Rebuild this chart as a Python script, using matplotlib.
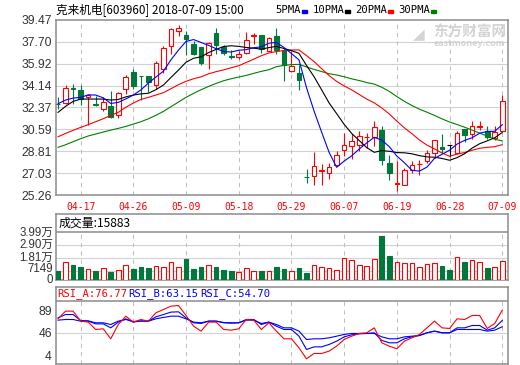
import numpy as np
import pandas as pd
import matplotlib
matplotlib.use('Agg')
import matplotlib.pyplot as plt
from matplotlib.patches import Rectangle
from matplotlib.transforms import blended_transform_factory, ScaledTranslation

# ---- data ----
opens = [32.68, 32.70, 33.95, 33.81, 33.24, 32.67, 32.27, 32.48, 31.78, 33.84,
         35.24, 34.94, 34.92, 34.22, 35.52, 37.35, 38.55, 38.28, 37.52, 37.25,
         36.60, 38.41, 37.25, 36.54, 36.44, 36.82, 38.20, 38.28, 36.98, 38.14,
         37.03, 35.30, 35.16, 26.76, 26.77, 27.21, 27.04, 27.72, 28.91, 29.21,
         29.29, 29.95, 29.94, 30.56, 27.83, 26.18, 26.04, 27.31, 27.75, 27.99,
         28.67, 29.13, 29.30, 28.67, 30.62, 30.21, 30.79, 30.43, 29.89, 30.48]
highs = [33.19, 34.22, 34.27, 34.22, 33.46, 33.27, 33.19, 33.73, 33.62, 34.97,
         35.52, 34.94, 34.92, 36.17, 37.33, 38.82, 39.09, 38.55, 37.79, 37.30,
         37.68, 38.82, 37.41, 37.03, 36.92, 38.49, 38.38, 38.28, 38.06, 38.82,
         37.19, 36.92, 35.84, 27.39, 28.75, 27.77, 27.85, 28.86, 30.29, 30.21,
         30.43, 30.29, 31.24, 30.83, 28.53, 27.99, 27.45, 27.99, 28.13, 28.94,
         29.75, 30.21, 29.34, 30.43, 30.62, 31.29, 31.29, 30.83, 30.83, 33.40]
lows = [32.27, 32.65, 32.65, 32.54, 30.91, 32.51, 32.11, 31.51, 31.51, 33.46,
        33.89, 33.00, 33.62, 33.89, 35.16, 36.68, 38.14, 36.65, 36.60, 35.79,
        35.52, 36.71, 36.65, 36.33, 36.33, 36.71, 37.52, 36.82, 36.92, 36.71,
        34.49, 35.24, 33.81, 26.26, 26.10, 26.04, 26.58, 27.58, 28.40, 28.15,
        28.86, 29.07, 29.21, 27.72, 26.47, 25.61, 26.04, 27.02, 26.85, 27.85,
        28.26, 28.67, 28.37, 28.59, 29.56, 29.83, 30.56, 29.83, 29.75, 30.43]
closes = [32.62, 33.95, 33.90, 33.08, 33.40, 32.56, 32.81, 31.62, 33.51, 34.81,
          34.11, 34.90, 34.43, 35.95, 37.19, 38.74, 38.82, 37.95, 36.71, 36.00,
          37.57, 37.46, 36.82, 36.50, 36.71, 37.84, 38.24, 37.14, 38.01, 37.03,
          35.79, 35.76, 34.57, 26.72, 27.58, 27.25, 27.50, 28.48, 29.29, 29.67,
          30.02, 29.99, 30.75, 28.13, 27.02, 26.22, 27.29, 27.67, 27.79, 28.67,
          29.75, 28.97, 29.30, 30.29, 30.16, 30.83, 30.83, 29.97, 30.37, 32.86]
volumes = [7850, 15180, 12650, 10400, 9000, 7850, 9840, 7030, 8440, 12370,
           9280, 10970, 9560, 11530, 10970, 15180, 10970, 17150, 9280, 10400,
           12370, 10400, 8720, 7850, 6750, 9840, 7850, 7850, 7850, 10400,
           9280, 7590, 10120, 5900, 12370, 10700, 10120, 8440, 18300, 16600,
           12370, 11530, 17460, 36270, 19990, 15180, 14340, 14340, 10700, 13500,
           14340, 11810, 8440, 19150, 15180, 16600, 15180, 10120, 10700, 15883]

# moving averages at the left edge (history before the window is not shown)
ma5_head = [32.67, 32.97, 33.13, 33.19]
ma10_head = [31.97, 32.46, 32.86, 33.05, 33.05, 33.05, 33.05, 32.97, 33.02]
ma20_head = [29.99, 30.26, 30.51, 30.75, 30.97, 31.21, 31.45, 31.73, 31.97, 32.38,
             32.73, 33.02, 33.19, 33.38, 33.57, 33.89, 34.22, 34.49, 34.70]
ma30_head = [29.13, 29.34, 29.59, 29.83, 30.05, 30.21, 30.37, 30.53, 30.67, 30.83,
             31.02, 31.21, 31.45, 31.73, 32.05, 32.43, 32.81, 33.19, 33.51, 33.81,
             34.08, 34.32, 34.54, 34.70, 34.84, 34.97, 35.14, 35.30, 35.43]

rsi_a = [65.3, 75.5, 75.5, 62.2, 60.9, 51.1, 52.0, 38.7, 57.7, 68.8,
         60.9, 64.4, 62.2, 73.3, 77.7, 82.1, 83.0, 69.7, 55.5, 48.9,
         60.9, 60.9, 51.1, 50.2, 52.0, 64.4, 63.5, 51.1, 60.0, 48.9,
         38.7, 38.7, 26.7, 12.1, 19.2, 19.2, 22.3, 28.9, 37.8, 42.2,
         45.8, 46.7, 53.3, 33.4, 28.9, 25.4, 35.6, 40.0, 44.5, 53.3,
         62.2, 53.3, 52.4, 65.3, 64.4, 69.7, 69.7, 52.4, 59.1, 76.77]
rsi_b = [66.6, 71.0, 71.0, 63.1, 62.2, 58.6, 58.6, 53.3, 60.9, 65.3,
         60.9, 62.6, 62.2, 67.9, 71.0, 74.2, 74.6, 66.6, 60.0, 59.1,
         62.2, 62.2, 60.0, 59.5, 60.0, 64.4, 64.4, 57.7, 60.9, 55.5,
         51.1, 51.1, 42.2, 24.5, 28.0, 28.0, 31.2, 35.6, 41.3, 44.0,
         45.3, 45.8, 46.7, 36.5, 33.4, 33.4, 38.7, 41.3, 43.1, 46.7,
         48.9, 46.7, 46.7, 53.3, 53.3, 56.4, 56.4, 50.2, 53.3, 63.15]
rsi_c = [63.5, 64.4, 64.4, 62.2, 62.6, 60.0, 60.0, 57.7, 62.2, 64.4,
         61.7, 62.2, 62.2, 65.3, 67.1, 68.8, 68.8, 65.3, 60.9, 60.0,
         62.2, 62.2, 60.4, 60.0, 60.0, 63.5, 63.5, 59.1, 60.9, 57.7,
         53.3, 53.3, 48.9, 37.8, 38.7, 38.7, 40.0, 42.2, 44.5, 45.8,
         45.8, 45.8, 45.8, 41.3, 38.7, 38.7, 41.3, 42.2, 43.1, 46.7,
         48.9, 46.7, 46.7, 51.1, 51.1, 51.1, 51.1, 48.9, 50.2, 54.70]

date_labels = ['04-17', '04-26', '05-09', '05-18', '05-29', '06-07', '06-19', '06-28', '07-09']
date_index = [3, 10, 17, 24, 31, 38, 45, 52, 59]
price_ticks = [25.26, 27.03, 28.81, 30.59, 32.37, 34.14, 35.92, 37.70, 39.47]
vol_ticks = [0, 7149, 18066, 28983, 39900]
vol_tick_labels = ['0', '7149', '1.81万', '2.90万', '3.99万']
rsi_ticks = [15.9, 46.8, 77.0]
rsi_tick_labels = ['4', '46', '89']

RED = '#ff0000'
GREEN = '#00783c'
BLUE = '#0000ff'
FRAME = '#8c8c8c'
GRID = '#d2d2d2'
W, H = 520, 365

plt.rcParams['font.family'] = ['Noto Sans CJK SC', 'DejaVu Sans']


def box(l, t, r, b):
    return [l / W, 1 - b / H, (r - l) / W, (b - t) / H]


def style_panel(ax):
    for s in ax.spines.values():
        s.set_color(FRAME)
        s.set_linewidth(1.1)
    ax.tick_params(length=0, labelsize=8.7, labelcolor='#333333', pad=3)
    for lab in ax.get_yticklabels():
        lab.set_fontfamily(['Liberation Sans', 'Noto Sans CJK SC'])
    ax.set_xlim(-0.27, 59.76)


def main():
    o = np.array(opens)
    h = np.array(highs)
    l = np.array(lows)
    c = np.array(closes)
    v = np.array(volumes)
    x = np.arange(len(c))

    close = pd.Series(c)
    ma5 = close.rolling(5).mean().to_numpy()
    ma5[:4] = ma5_head
    ma10 = close.rolling(10).mean().to_numpy()
    ma10[:9] = ma10_head
    ma20 = close.rolling(20).mean().to_numpy()
    ma20[:19] = ma20_head
    ma30 = close.rolling(30).mean().to_numpy()
    ma30[:29] = ma30_head

    fig = plt.figure(figsize=(5.2, 3.65), dpi=100)

    # ---------- price panel ----------
    ax = fig.add_axes(box(56, 20, 508, 195))
    ax.set_ylim(25.26, 39.47)
    for t in price_ticks[1:-1]:
        ax.axhline(t, color=GRID, lw=0.8, zorder=0)
    ax.vlines(date_index, 25.26, 39.47, colors='#c0c0c0', lw=0.75,
              linestyles=(0, (4, 4)), zorder=0)

    up = c > o
    down = c < o
    flat = c == o
    col = np.where(up, RED, np.where(down, GREEN, 'black'))
    ax.vlines(x, l, h, colors=col, lw=0.8, zorder=2)
    bottom = np.minimum(o, c)
    height = np.maximum(np.abs(c - o), 0.03)
    bw = 0.62
    ax.bar(x[up], height[up], bw, bottom[up], facecolor='white', edgecolor=RED, lw=0.8, zorder=3)
    ax.bar(x[down], height[down], bw, bottom[down], facecolor=GREEN, edgecolor=GREEN, lw=0.8, zorder=3)
    ax.bar(x[flat], height[flat], bw, bottom[flat], facecolor='black', edgecolor='black', lw=0.8, zorder=3)

    ax.plot(x, ma30, color='#008000', lw=0.8, zorder=4)
    ax.plot(x, ma20, color=RED, lw=0.8, zorder=4)
    ax.plot(x, ma10, color='black', lw=0.8, zorder=4)
    ax.plot(x, ma5, color=BLUE, lw=0.8, zorder=4)

    ax.set_yticks(price_ticks)
    ax.set_yticklabels([f'{t:.2f}' for t in price_ticks])
    ax.set_xticks(date_index)
    ax.set_xticklabels(date_labels)
    style_panel(ax)
    ax.tick_params(axis='x', labelcolor=RED, labelsize=7, pad=5)
    for lab in ax.get_xticklabels():
        lab.set_fontfamily('DejaVu Sans Mono')

    # watermark
    ax.text(0.835, 0.935, '东方财富网', transform=ax.transAxes, fontsize=10.5,
            fontweight='bold', color='#d4d4d4', ha='left', va='center', zorder=1)
    ax.text(0.835, 0.865, 'eastmoney.com', transform=ax.transAxes, fontsize=6.5,
            fontweight='bold', color='#d4d4d4', ha='left', va='center', zorder=1)
    ax.text(0.79, 0.915, '◢', transform=ax.transAxes, fontsize=11, family='DejaVu Sans',
            color='#d4d4d4', ha='left', va='center', zorder=1)

    # ---------- volume panel ----------
    axv = fig.add_axes(box(56, 214, 508, 280))
    vmax = vol_ticks[-1]
    vtop = vmax * 66 / 48
    axv.set_ylim(0, vtop)
    axv.axhline(vmax, color=FRAME, lw=1.1, zorder=1)
    for t in vol_ticks[1:-1]:
        axv.axhline(t, color=GRID, lw=0.8, zorder=0)
    axv.vlines(date_index, 0, vmax, colors='#c0c0c0', lw=0.75,
               linestyles=(0, (4, 4)), zorder=0)
    vup = c > o
    axv.bar(x[vup], v[vup], bw, facecolor='white', edgecolor=RED, lw=0.8, zorder=3)
    axv.bar(x[~vup], v[~vup], bw, facecolor=GREEN, edgecolor=GREEN, lw=0.8, zorder=3)
    axv.set_yticks([])
    axv.set_xticks([])
    style_panel(axv)
    # tick labels drawn as texts so the two lowest ones can sit apart
    trans = blended_transform_factory(axv.transAxes, axv.transData)
    nudge = [0, 2.5, 0.5, 0, -0.5]
    for t, lab, dy in zip(vol_ticks, vol_tick_labels, nudge):
        axv.text(-0.007, t, lab, ha='right', va='center', fontsize=8.3,
                 color='#333333', family=['Liberation Sans', 'Noto Sans CJK SC'],
                 transform=trans + ScaledTranslation(0, dy / 100, fig.dpi_scale_trans))
    axv.text(0.005, (vtop + vmax) / 2 / vtop, f'成交量:{volumes[-1]}',
             transform=axv.transAxes, fontsize=8.6, ha='left', va='center')

    # ---------- RSI panel ----------
    axr = fig.add_axes(box(56, 287, 508, 364))
    axr.set_ylim(5.2, 107.6)
    axr.axhline(89, color=FRAME, lw=1.1, zorder=1)
    axr.axhline(rsi_ticks[1], color=GRID, lw=0.8, zorder=0)
    axr.vlines(date_index, 5.2, 89, colors='#c0c0c0', lw=0.75,
               linestyles=(0, (4, 4)), zorder=0)
    axr.plot(x, rsi_c, color=BLUE, lw=0.8, zorder=3)
    axr.plot(x, rsi_b, color=BLUE, lw=0.8, zorder=3)
    axr.plot(x, rsi_a, color=RED, lw=0.8, zorder=4)
    axr.set_yticks(rsi_ticks)
    axr.set_yticklabels(rsi_tick_labels)
    axr.set_xticks([])
    style_panel(axr)
    for xp, txt, cc in [(57, f'RSI_A:{rsi_a[-1]:.2f}', RED),
                        (128, f'RSI_B:{rsi_b[-1]:.2f}', BLUE),
                        (200, f'RSI_C:{rsi_c[-1]:.2f}', BLUE)]:
        fig.text(xp / W, 1 - 294 / H, txt, color=cc, fontsize=7.6,
                 family='DejaVu Sans Mono', ha='left', va='center')

    # ---------- header ----------
    fig.text(56 / W, 1 - 10 / H, '克来机电[603960] 2018-07-09 15:00',
             fontsize=8.4, ha='left', va='center')
    legend = [('5PMA', BLUE, 275, 302), ('10PMA', 'black', 313, 345),
              ('20PMA', RED, 355, 388), ('30PMA', '#008000', 398, 431)]
    for name, cc, tx, rx in legend:
        fig.text(tx / W, 1 - 10 / H, name, fontsize=7.6, ha='left', va='center',
                 family='DejaVu Sans Mono')
        fig.patches.append(Rectangle((rx / W, 1 - 12.5 / H), 5 / W, 3 / H,
                                     transform=fig.transFigure, color=cc))

    fig.savefig('out.png', dpi=100)


if __name__ == '__main__':
    main()
